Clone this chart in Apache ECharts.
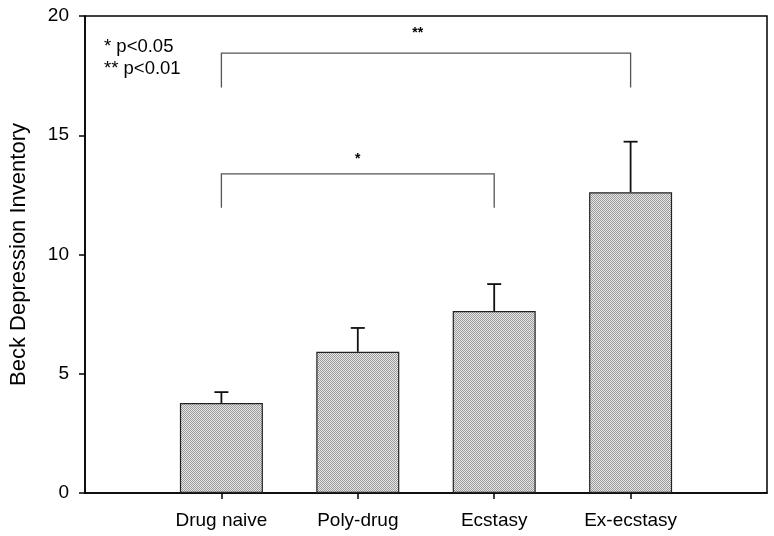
<!DOCTYPE html>
<html>
<head>
<meta charset="utf-8">
<script src="https://cdn.jsdelivr.net/npm/echarts@6/dist/echarts.min.js"></script>
<style>
html,body{margin:0;padding:0;background:#fff;}
#chart{width:774px;height:536px;}
</style>
</head>
<body>
<div id="chart"></div>
<script>
// ---- data ----
var categories = ['Drug naive', 'Poly-drug', 'Ecstasy', 'Ex-ecstasy'];
var categoryPos = [1, 2, 3, 4];
var means = [3.77, 5.92, 7.63, 12.61];
var errors = [0.46, 1.00, 1.13, 2.12];
var yTicks = [0, 5, 10, 15, 20];
var bracketFrom = [1, 1];
var bracketTo = [3, 4];
var bracketTop = [13.38, 18.44];
var bracketBottom = [11.96, 17.0];
var bracketLabels = ['*', '**'];
var bracketLabelX = [2.0, 2.44];
var bracketLabelY = [14.0, 19.3];
var legendLines = ['* p<0.05', '** p<0.01'];

// ---- styles ----
var FONT = '"Liberation Sans", Arial, sans-serif';
var pat = document.createElement('canvas');
pat.width = 4; pat.height = 4;
var pc = pat.getContext('2d');
pc.fillStyle = '#e6e6e6'; pc.fillRect(0, 0, 4, 4);
pc.fillStyle = '#9c9c9c';
for (var i = 0; i < 4; i++) for (var j = 0; j < 4; j++) if ((i + j) % 2 === 0) pc.fillRect(i, j, 1, 1);

var barData = categoryPos.map(function (p, i) { return [p, means[i]]; });
var errData = categoryPos.map(function (p, i) { return [p, means[i], means[i] + errors[i]]; });
var brData = bracketFrom.map(function (f, i) { return [f, bracketTo[i], bracketTop[i], bracketBottom[i], bracketLabelX[i], bracketLabelY[i]]; });

var chart = echarts.init(document.getElementById('chart'), null, {renderer: 'canvas'});
chart.setOption({
  animation: false,
  backgroundColor: '#fff',
  grid: {left: 83, right: 7, top: 16, bottom: 43, show: true, borderColor: '#000', borderWidth: 1.5},
  xAxis: {
    type: 'value', min: 0, max: 5, interval: 1,
    splitLine: {show: false},
    axisLine: {show: true, onZero: false, lineStyle: {color: '#000', width: 1.5}},
    axisTick: {show: true, customValues: categoryPos, length: 6, lineStyle: {color: '#000', width: 1.5}},
    axisLabel: {
      customValues: categoryPos, margin: 18, color: '#000', fontSize: 19, fontFamily: FONT,
      formatter: function (v) { return categories[Math.round(v) - 1] || ''; }
    }
  },
  yAxis: {
    type: 'value', min: 0, max: 20, interval: 5,
    name: 'Beck Depression Inventory', nameLocation: 'middle', nameGap: 55,
    nameTextStyle: {color: '#000', fontSize: 22, fontFamily: FONT},
    splitLine: {show: false},
    axisLine: {show: true, lineStyle: {color: '#000', width: 1.5}},
    axisTick: {show: true, length: 6, lineStyle: {color: '#000', width: 1.5}},
    axisLabel: {color: '#000', fontSize: 19, fontFamily: FONT, margin: 16,
      formatter: function (v) { return yTicks.indexOf(v) >= 0 ? String(v) : ''; }}
  },
  graphic: legendLines.map(function (t, i) {
    return {type: 'text', left: 104, top: 37 + i * 22, style: {text: t, fill: '#000', font: '18.5px ' + FONT}};
  }),
  series: [
    {
      type: 'bar', data: barData, barWidth: 83,
      itemStyle: {color: {image: pat, repeat: 'repeat'}, borderColor: '#222', borderWidth: 1.2}
    },
    {
      type: 'custom', data: errData,
      renderItem: function (params, api) {
        var x = api.value(0);
        var p0 = api.coord([x, api.value(1)]);
        var p1 = api.coord([x, api.value(2)]);
        return {type: 'group', children: [
          {type: 'line', shape: {x1: p0[0], y1: p0[1], x2: p1[0], y2: p1[1]}, style: {stroke: '#111', lineWidth: 1.8}},
          {type: 'line', shape: {x1: p1[0] - 7, y1: p1[1], x2: p1[0] + 7, y2: p1[1]}, style: {stroke: '#111', lineWidth: 1.8}}
        ]};
      }
    },
    {
      type: 'custom', data: brData,
      renderItem: function (params, api) {
        var a = api.coord([api.value(0), api.value(2)]);
        var b = api.coord([api.value(1), api.value(2)]);
        var a2 = api.coord([api.value(0), api.value(3)]);
        var b2 = api.coord([api.value(1), api.value(3)]);
        var lx = api.coord([api.value(4), api.value(5)]);
        return {type: 'group', children: [
          {type: 'polyline', shape: {points: [a2, a, b, b2]}, style: {stroke: '#555', lineWidth: 1.3, fill: null}},
          {type: 'text', x: lx[0], y: lx[1], style: {text: bracketLabels[params.dataIndex], fill: '#000', font: 'bold 14px ' + FONT, align: 'center', verticalAlign: 'middle'}}
        ]};
      }
    }
  ]
});
</script>
</body>
</html>
